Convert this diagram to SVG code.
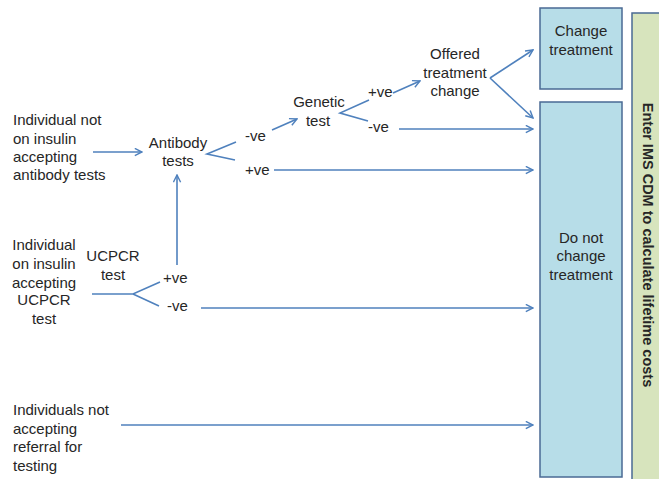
<svg xmlns="http://www.w3.org/2000/svg" width="659" height="479" viewBox="0 0 659 479">
<defs>
<marker id="arr" viewBox="0 0 10 10" refX="9" refY="5" markerWidth="9" markerHeight="9" markerUnits="userSpaceOnUse" orient="auto">
<path d="M1,1 L9,5 L1,9" fill="none" stroke="#4f81bd" stroke-width="1.6"/>
</marker>
<style>
.t{font-family:"Liberation Sans",Arial,sans-serif;font-size:15px;fill:#262626}
.c{text-anchor:middle}
.ln{fill:none;stroke:#4f81bd;stroke-width:1.6}
.a{marker-end:url(#arr)}
.box{fill:#b7dde8;stroke:#4a6a94;stroke-width:1.5}
.gbox{fill:#d7e4bd;stroke:#4a6a94;stroke-width:1.5}
.b{font-weight:bold;font-size:14.5px}
</style>
</defs>
<rect width="659" height="479" fill="#fff"/>
<g id="node-change">
<rect class="box" x="540" y="8" width="82" height="81"/>
<text class="t c" x="581" y="36">Change</text>
<text class="t c" x="581" y="55">treatment</text>
</g>
<g id="node-donot">
<rect class="box" x="540" y="102" width="82" height="375"/>
<text class="t c" x="581" y="243">Do not</text>
<text class="t c" x="581" y="261">change</text>
<text class="t c" x="581" y="280">treatment</text>
</g>
<g id="node-ims">
<rect class="gbox" x="632" y="13" width="40" height="470"/>
<text class="t c b" transform="translate(643,245) rotate(90)" x="0" y="0">Enter IMS CDM to calculate lifetime costs</text>
</g>
<g id="node-notinsulin">
<text class="t" x="13" y="125">Individual not</text>
<text class="t" x="13" y="144">on insulin</text>
<text class="t" x="13" y="162">accepting</text>
<text class="t" x="13" y="180">antibody tests</text>
</g>
<g id="node-antibody">
<text class="t c" x="178" y="148">Antibody</text>
<text class="t c" x="178" y="166">tests</text>
</g>
<g id="node-genetic">
<text class="t c" x="319" y="107">Genetic</text>
<text class="t c" x="318" y="126">test</text>
</g>
<g id="node-offered">
<text class="t c" x="455" y="59">Offered</text>
<text class="t c" x="455" y="78">treatment</text>
<text class="t c" x="455" y="96">change</text>
</g>
<g id="node-insulin">
<text class="t c" x="44" y="250">Individual</text>
<text class="t c" x="44" y="269">on insulin</text>
<text class="t c" x="44" y="288">accepting</text>
<text class="t c" x="44" y="305">UCPCR</text>
<text class="t c" x="44" y="324">test</text>
</g>
<g id="node-ucpcr">
<text class="t c" x="113" y="261">UCPCR</text>
<text class="t c" x="113" y="280">test</text>
</g>
<g id="node-notaccepting">
<text class="t" x="13" y="415">Individuals not</text>
<text class="t" x="13" y="434">accepting</text>
<text class="t" x="13" y="452">referral for</text>
<text class="t" x="13" y="471">testing</text>
</g>
<g id="connectors">
<path class="ln a" d="M93,152 H142"/>
<path class="ln" d="M236,142 L207,154 L235,160"/>
<text class="t" x="245" y="141">-ve</text>
<text class="t" x="245" y="175">+ve</text>
<path class="ln a" d="M272,130 L297,119"/>
<path class="ln a" d="M274,170 H533"/>
<path class="ln" d="M369,100 L340,113 L368,121"/>
<text class="t" x="368" y="97">+ve</text>
<text class="t" x="368" y="132">-ve</text>
<path class="ln a" d="M393,93 L420,81"/>
<path class="ln a" d="M399,129 H533"/>
<path class="ln a" d="M490,78 L533,50"/>
<path class="ln a" d="M490,78 L533,118"/>
<path class="ln" d="M92,294 H133 L160,282 M133,294 L159,306"/>
<text class="t" x="163" y="283">+ve</text>
<text class="t" x="167" y="311">-ve</text>
<path class="ln a" d="M177,265 V175"/>
<path class="ln a" d="M201,308 H533"/>
<path class="ln a" d="M121,425 H533"/>
</g>
</svg>
